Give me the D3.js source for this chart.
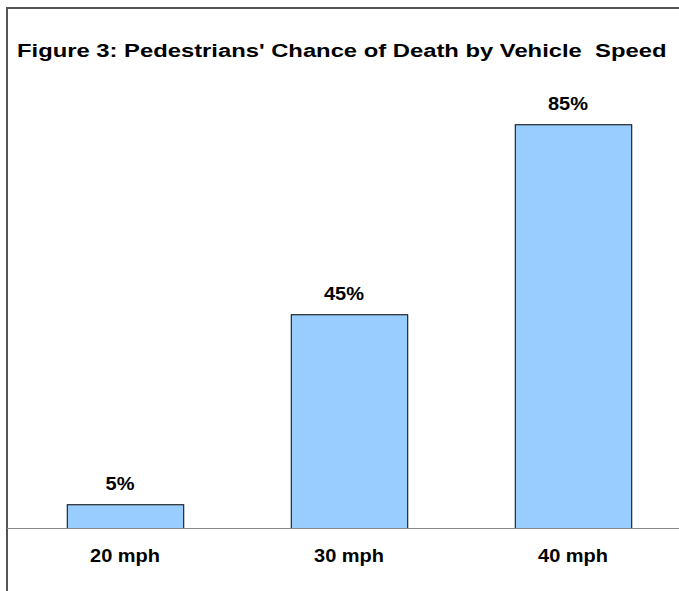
<!DOCTYPE html>
<html>
<head>
<meta charset="utf-8">
<script src="https://cdn.jsdelivr.net/npm/d3@7"></script>
<style>
  body { margin: 0; background: #fff; }
  text { font-family: "Liberation Sans", Arial, sans-serif; font-weight: bold; fill: #000; white-space: pre; }
</style>
</head>
<body>
<svg width="679" height="591"></svg>
<script>
// данные графика
const categories = ["20 mph", "30 mph", "40 mph"];
const values = [5, 45, 85];
const titleText = "Figure 3: Pedestrians' Chance of Death by Vehicle  Speed";

const svg = d3.select("svg");
const W = 679, H = 591;
const stretch = 1.11; // текст в оригинале растянут по горизонтали

// рамка (верх и левый край)
svg.append("path")
    .attr("d", `M7,${H} L7,8 L${W},8`)
    .attr("fill", "none")
    .attr("stroke", "#555")
    .attr("stroke-width", 2);

// заголовок: растягиваем до ширины 650px
const title = svg.append("text")
    .attr("font-size", 17.5)
    .text(titleText);
const tw = title.node().getComputedTextLength();
title.attr("transform", `translate(17,57) scale(${650 / tw},1)`);

const x = d3.scaleBand()
    .domain(categories)
    .range([13, W + 6])
    .paddingInner(0.48)
    .paddingOuter(0.24);

const y = d3.scaleLinear()
    .domain([0, 100])
    .range([528, 53]);

// столбцы
svg.selectAll("rect.bar")
    .data(values)
    .join("rect")
    .attr("class", "bar")
    .attr("x", (d, i) => x(categories[i]) + 0.5)
    .attr("y", d => y(d) + 0.5)
    .attr("width", x.bandwidth())
    .attr("height", d => y(0) - y(d))
    .attr("fill", "#99ccff")
    .attr("stroke", "#000")
    .attr("stroke-width", 1);

// ось X
svg.append("line")
    .attr("x1", 7).attr("x2", W)
    .attr("y1", y(0) + 0.5).attr("y2", y(0) + 0.5)
    .attr("stroke", "#888")
    .attr("stroke-width", 1);

// подписи значений
svg.selectAll("text.val")
    .data(values)
    .join("text")
    .attr("class", "val")
    .attr("transform", (d, i) =>
        `translate(${x(categories[i]) + x.bandwidth() / 2 - 5},${y(d) - 14}) scale(${stretch},1)`)
    .attr("text-anchor", "middle")
    .attr("font-size", 18)
    .text(d => d + "%");

// подписи категорий
svg.selectAll("text.cat")
    .data(categories)
    .join("text")
    .attr("class", "cat")
    .attr("transform", d => `translate(${x(d) + x.bandwidth() / 2},562) scale(${stretch},1)`)
    .attr("text-anchor", "middle")
    .attr("font-size", 18)
    .text(d => d);
</script>
</body>
</html>
